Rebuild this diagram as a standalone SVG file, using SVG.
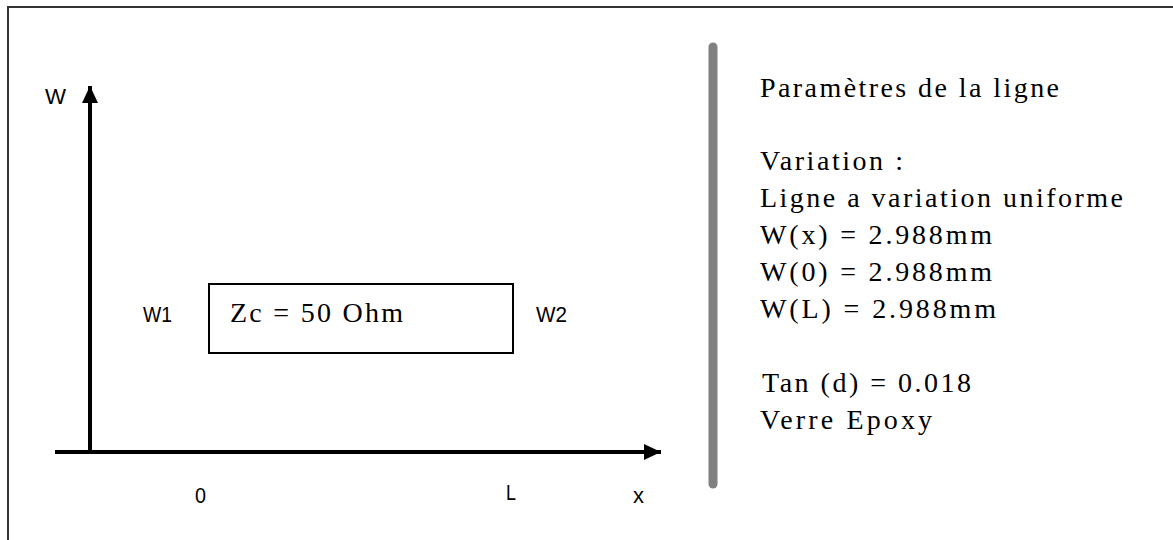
<svg xmlns="http://www.w3.org/2000/svg" width="1173" height="540" viewBox="0 0 1173 540">
  <defs>
    <style>
      .sans { font-family: "Liberation Sans", Arial, sans-serif; font-size: 22px; fill: #000; }
      .serif { font-family: "Liberation Serif", "Times New Roman", serif; font-size: 28px; fill: #000; }
      .axis { stroke: #000; stroke-width: 4; fill: none; }
    </style>
    <marker id="arrow" markerUnits="userSpaceOnUse" markerWidth="20" markerHeight="20" refX="17" refY="8" orient="auto">
      <path d="M0,0 L17,8 L0,16 Z" fill="#000"/>
    </marker>
  </defs>

  <rect width="1173" height="540" fill="#fff"/>

  <!-- frame: left and top edges only -->
  <path d="M8,540 L8,7 L1173,7" fill="none" stroke="#333" stroke-width="2"/>

  <!-- axes -->
  <g id="connectors">
    <line class="axis" x1="90" y1="452" x2="90" y2="86" marker-end="url(#arrow)"/>
    <line class="axis" x1="55" y1="452" x2="661" y2="452" marker-end="url(#arrow)"/>
  </g>

  <g id="axis-labels">
    <text class="sans" x="45" y="104" font-size="24" textLength="21" lengthAdjust="spacingAndGlyphs">W</text>
    <text class="sans" x="195" y="503" textLength="11" lengthAdjust="spacingAndGlyphs">0</text>
    <text class="sans" x="506" y="500" textLength="10" lengthAdjust="spacingAndGlyphs">L</text>
    <text class="sans" x="633" y="503" textLength="11" lengthAdjust="spacingAndGlyphs">x</text>
  </g>

  <!-- transmission line segment -->
  <g id="line-segment">
    <rect x="209" y="284" width="304" height="69" fill="#fff" stroke="#000" stroke-width="2"/>
    <text class="serif" x="230" y="322" font-size="26" textLength="173" lengthAdjust="spacing">Zc = 50 Ohm</text>
  </g>
  <g id="w1"><text class="sans" x="143" y="322" font-size="23" textLength="29" lengthAdjust="spacingAndGlyphs">W1</text></g>
  <g id="w2"><text class="sans" x="536" y="322" font-size="23" textLength="31" lengthAdjust="spacingAndGlyphs">W2</text></g>

  <!-- separator -->
  <line x1="713" y1="47" x2="713" y2="484" stroke="#808080" stroke-width="9" stroke-linecap="round"/>

  <!-- parameters -->
  <g id="parameters">
    <text class="serif" x="760" y="97" textLength="299" lengthAdjust="spacing">Paramètres de la ligne</text>
    <text class="serif" x="760" y="170" textLength="143" lengthAdjust="spacing">Variation :</text>
    <text class="serif" x="760" y="207" textLength="363" lengthAdjust="spacing">Ligne a variation uniforme</text>
    <text class="serif" x="760" y="244" textLength="232" lengthAdjust="spacing">W(x) = 2.988mm</text>
    <text class="serif" x="760" y="281" textLength="232" lengthAdjust="spacing">W(0) = 2.988mm</text>
    <text class="serif" x="760" y="318" textLength="236" lengthAdjust="spacing">W(L) = 2.988mm</text>
    <text class="serif" x="762" y="392" textLength="209" lengthAdjust="spacing">Tan (d) = 0.018</text>
    <text class="serif" x="760" y="429" textLength="172" lengthAdjust="spacing">Verre Epoxy</text>
  </g>
</svg>
